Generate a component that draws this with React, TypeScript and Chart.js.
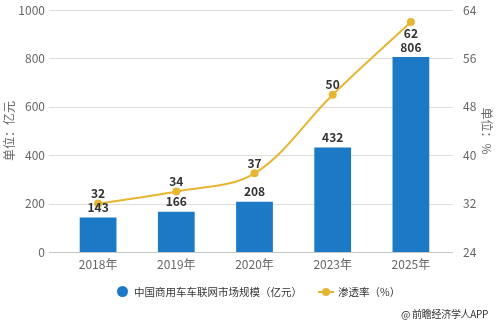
import React, { useEffect, useRef } from "react";
import { Chart, registerables } from "chart.js";

Chart.register(...registerables);

const categories = ["2018年", "2019年", "2020年", "2023年", "2025年"];
const marketSize = [143, 166, 208, 432, 806];
const penetration = [32, 34, 37, 50, 62];
const barLabel = "中国商用车车联网市场规模（亿元）";
const lineLabel = "渗透率（%）";
const leftTitle = "单位：亿元";
const rightTitle = "单位：%";
const sourceText = "@ 前瞻经济学人APP";

const BAR_COLOR = "#1b79c6";
const LINE_COLOR = "#e7b531";
const FONT = "'Noto Sans CJK SC', 'Noto Sans', sans-serif";

const gridPlugin = {
  id: "extGrid",
  beforeDatasetsDraw(chart: any) {
    const { ctx } = chart;
    const y = chart.scales.y;
    ctx.save();
    ctx.lineWidth = 1;
    y.ticks.forEach((t: any) => {
      const py = Math.round(y.getPixelForValue(t.value)) + 0.5;
      ctx.strokeStyle = t.value === 0 ? "#c8c8c8" : "#dedede";
      ctx.beginPath();
      ctx.moveTo(49, py);
      ctx.lineTo(453, py);
      ctx.stroke();
    });
    ctx.restore();
  },
};

const labelPlugin = {
  id: "valLabels",
  afterDatasetsDraw(chart: any) {
    const { ctx } = chart;
    ctx.save();
    ctx.font = `bold 12px ${FONT}`;
    ctx.fillStyle = "#333";
    ctx.textAlign = "center";
    ctx.textBaseline = "middle";
    const barMeta = chart.getDatasetMeta(0);
    barMeta.data.forEach((el: any, i: number) => {
      ctx.fillText(String(marketSize[i]), el.x, el.y - 10);
    });
    const lineMeta = chart.getDatasetMeta(1);
    lineMeta.data.forEach((el: any, i: number) => {
      const below = el.y < chart.chartArea.top + 20;
      ctx.fillText(String(penetration[i]), el.x, below ? el.y + 11 : el.y - 10);
    });
    ctx.restore();
  },
};

export default function App() {
  const ref = useRef<HTMLCanvasElement | null>(null);
  useEffect(() => {
    document.body.style.margin = "0";
    const chart = new Chart(ref.current as HTMLCanvasElement, {
      type: "bar",
      data: {
        labels: categories,
        datasets: [
          {
            type: "bar",
            label: barLabel,
            data: marketSize,
            backgroundColor: BAR_COLOR,
            yAxisID: "y",
            categoryPercentage: 1,
            barPercentage: 0.47,
            order: 2,
          },
          {
            type: "line",
            label: lineLabel,
            data: penetration,
            borderColor: LINE_COLOR,
            backgroundColor: LINE_COLOR,
            borderWidth: 2,
            pointRadius: 4,
            pointBorderWidth: 0,
            tension: 0.35,
            yAxisID: "y1",
            order: 1,
          },
        ],
      },
      options: {
        animation: false,
        responsive: false,
        maintainAspectRatio: false,
        layout: { padding: { top: 10, left: 0, right: 0, bottom: 0 } },
        plugins: { legend: { display: false }, tooltip: { enabled: false } },
        scales: {
          x: {
            grid: { display: false, drawTicks: false },
            border: { display: false },
            ticks: { color: "#666", font: { size: 12, family: FONT }, padding: 5 },
            afterFit(s: any) {
              s.height = 71;
            },
          },
          y: {
            position: "left",
            min: 0,
            max: 1000,
            ticks: {
              stepSize: 200,
              color: "#666",
              font: { size: 12, family: FONT },
              padding: 0,
              callback: (v: any) => String(v),
            },
            grid: { display: false, drawTicks: true, tickLength: 14 },
            border: { display: false },
            title: { display: true, text: leftTitle, color: "#666", font: { size: 12, family: FONT }, padding: 2 },
            afterFit(s: any) {
              s.width = 59;
            },
          },
          y1: {
            position: "right",
            min: 24,
            max: 64,
            ticks: { stepSize: 8, color: "#666", font: { size: 12, family: FONT }, padding: 0 },
            grid: { display: false, drawTicks: true, tickLength: 13 },
            border: { display: false },
            title: { display: true, text: rightTitle, color: "#666", font: { size: 12, family: FONT }, padding: 5 },
            afterFit(s: any) {
              s.width = 49;
            },
          },
        },
      },
      plugins: [gridPlugin, labelPlugin],
    } as any);
    return () => chart.destroy();
  }, []);

  return (
    <div style={{ position: "relative", width: 499, height: 323, background: "#fff", fontFamily: FONT }}>
      <canvas ref={ref} width={499} height={323} style={{ display: "block" }} />
      <div style={{ position: "absolute", left: 117, top: 284, display: "flex", alignItems: "center", fontSize: 10.5, color: "#333", whiteSpace: "nowrap" }}>
        <span style={{ width: 11, height: 11, borderRadius: "50%", background: BAR_COLOR, display: "inline-block", marginRight: 6 }} />
        <span>{barLabel}</span>
        <span style={{ position: "relative", width: 16, height: 11, display: "inline-block", marginLeft: 16, marginRight: 4 }}>
          <span style={{ position: "absolute", left: 0, top: 5, width: 16, height: 2, background: LINE_COLOR }} />
          <span style={{ position: "absolute", left: 4, top: 2, width: 8, height: 8, borderRadius: "50%", background: LINE_COLOR }} />
        </span>
        <span>{lineLabel}</span>
      </div>
      <div style={{ position: "absolute", left: 401, top: 306, fontSize: 10, letterSpacing: -0.3, color: "#333", whiteSpace: "nowrap" }}>{sourceText}</div>
    </div>
  );
}
